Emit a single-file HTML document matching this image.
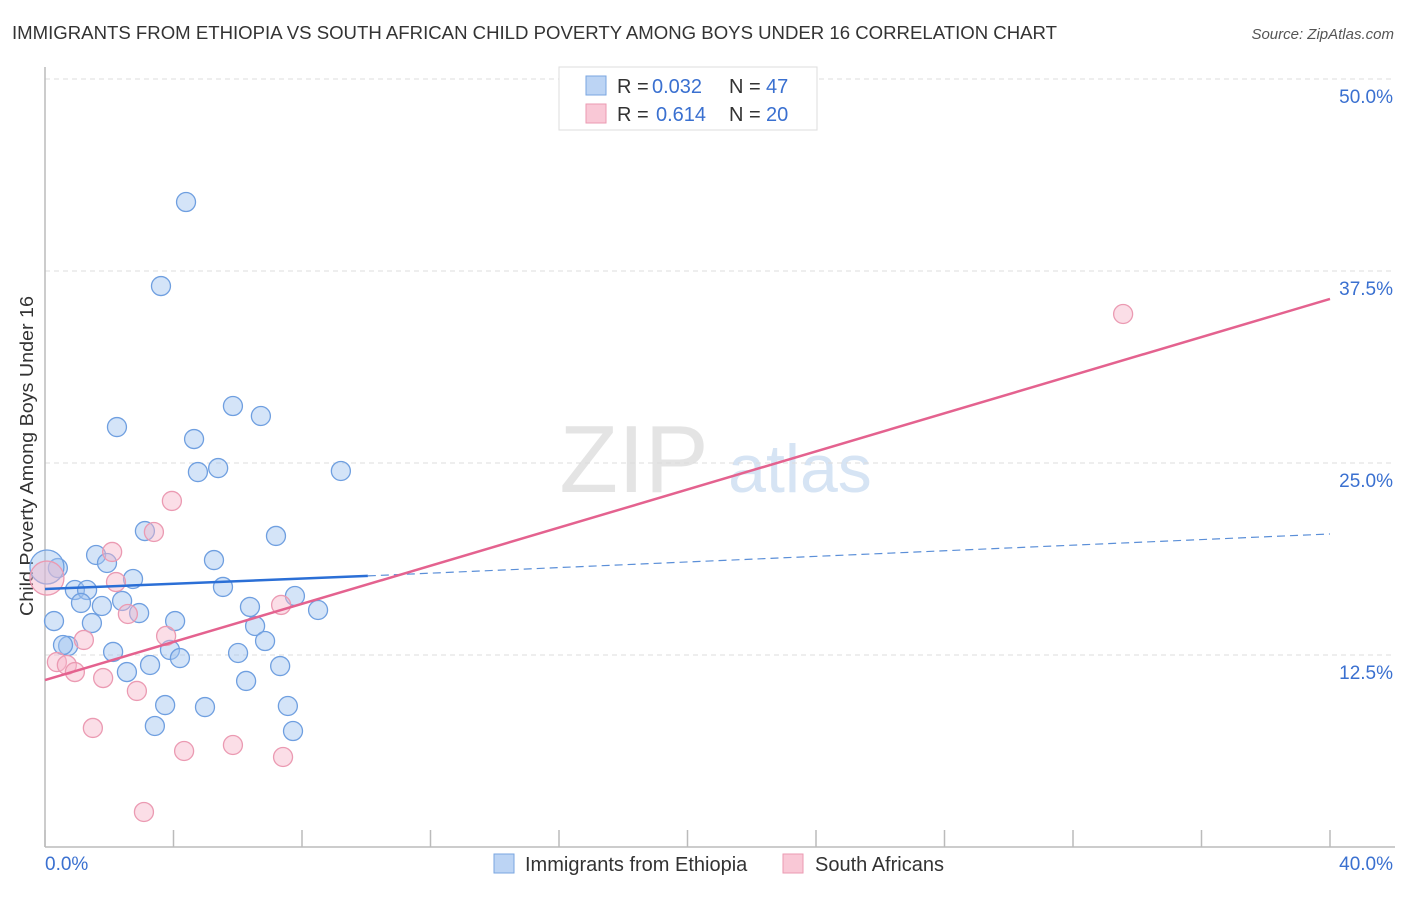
<!DOCTYPE html>
<html><head><meta charset="utf-8"><style>
body{margin:0;background:#fff;font-family:"Liberation Sans",sans-serif;}
svg text{font-family:"Liberation Sans",sans-serif;}
</style></head><body>
<svg id="c" width="1406" height="892">
<text x="12" y="39" font-size="18" fill="#333" textLength="1045" lengthAdjust="spacingAndGlyphs">IMMIGRANTS FROM ETHIOPIA VS SOUTH AFRICAN CHILD POVERTY AMONG BOYS UNDER 16 CORRELATION CHART</text>
<text x="1394" y="39" font-size="15" fill="#555" text-anchor="end" font-style="italic">Source: ZipAtlas.com</text>
<text x="634" y="492" font-size="96" fill="#e4e4e4" font-family="Liberation Serif" text-anchor="middle">ZIP</text>
<text x="800" y="492" font-size="68" fill="#d6e4f4" text-anchor="middle">atlas</text>
<text transform="translate(33,456) rotate(-90)" font-size="18" fill="#333" text-anchor="middle" textLength="320" lengthAdjust="spacingAndGlyphs">Child Poverty Among Boys Under 16</text>
<g id="grid"></g><g id="marks"></g>
<g>
<rect x="559" y="67" width="258" height="63" fill="#fff" stroke="#ddd"/>
<rect x="586" y="76" width="20" height="19" fill="#bcd4f4" stroke="#7aa6e0"/>
<rect x="586" y="104" width="20" height="19" fill="#f9c8d6" stroke="#eb9ab2"/>
<text x="617" y="93" font-size="20" fill="#333">R =</text>
<text x="652" y="93" font-size="20" fill="#3a70d0">0.032</text>
<text x="729" y="93" font-size="20" fill="#333">N =</text>
<text x="766" y="93" font-size="20" fill="#3a70d0">47</text>
<text x="617" y="121" font-size="20" fill="#333">R =</text>
<text x="656" y="121" font-size="20" fill="#3a70d0">0.614</text>
<text x="729" y="121" font-size="20" fill="#333">N =</text>
<text x="766" y="121" font-size="20" fill="#3a70d0">20</text>
</g>
<g>
<rect x="494" y="854" width="20" height="19" fill="#bcd4f4" stroke="#7aa6e0"/>
<text x="525" y="871" font-size="20" fill="#333">Immigrants from Ethiopia</text>
<rect x="783" y="854" width="20" height="19" fill="#f9c8d6" stroke="#eb9ab2"/>
<text x="815" y="871" font-size="20" fill="#333">South Africans</text>
</g>
</svg>
<script>
const yTicks=[12.5,25,37.5,50];
const yTickLabels=["12.5%","25.0%","37.5%","50.0%"];
const xTickLabels=["0.0%","40.0%"];
const blueX=[4.39,3.61,2.24,5.85,6.72,4.64,4.76,5.39,9.21,3.11,7.19,1.59,1.93,5.26,0.40,0.06,2.74,0.93,1.31,5.54,1.12,1.77,2.40,2.93,6.38,7.78,8.50,0.28,1.46,4.05,6.54,6.85,0.72,0.56,2.12,3.89,4.20,6.01,3.27,2.55,7.32,6.26,3.74,4.98,3.42,7.56,7.72];
const blueY=[41.99,36.52,27.34,28.71,28.06,26.56,24.41,24.67,24.48,20.57,20.25,19.01,18.49,18.68,18.16,18.23,17.45,16.73,16.73,16.93,15.89,15.69,16.02,15.23,15.63,16.34,15.43,14.71,14.58,14.71,14.39,13.41,13.09,13.15,12.70,12.83,12.30,12.63,11.85,11.39,11.78,10.81,9.24,9.11,7.88,9.18,7.55];
const pinkX=[3.95,3.39,2.09,2.21,0.06,1.21,2.58,3.77,7.35,0.37,0.68,0.93,1.81,2.86,1.49,4.33,5.85,7.41,3.08,33.56];
const pinkY=[22.53,20.51,19.21,17.25,17.51,13.48,15.17,13.74,15.76,12.04,11.85,11.39,11.00,10.16,7.75,6.25,6.64,5.86,2.28,34.70];
const blueLine=[16.8,17.65,20.38];
const blueLineX=[0,10.05,40];
const pinkLine=[10.87,35.68];
const X=v=>45+v/40*1285, Y=v=>847-v/50*768;
const NS="http://www.w3.org/2000/svg";
function mk(tag,attrs,parent){const e=document.createElementNS(NS,tag);for(const k in attrs)e.setAttribute(k,attrs[k]);parent.appendChild(e);return e;}
const grid=document.getElementById('grid'),marks=document.getElementById('marks');
yTicks.forEach((t,i)=>{
 const l=mk('line',{x1:45,x2:1395,y1:Y(t),y2:Y(t),stroke:'#ddd','stroke-dasharray':'5,4'},grid);
 
 
 const tx=mk('text',{x:1393,y:Y(t)+24,'font-size':19,fill:'#3a70d0','text-anchor':'end'},grid);
 tx.textContent=yTickLabels[i];
 
 
});
const ax=mk('line',{x1:45,x2:45,y1:67,y2:847,stroke:'#bbb','stroke-width':1.5},grid);


const bx=mk('line',{x1:45,x2:1395,y1:847,y2:847,stroke:'#bbb','stroke-width':1.5},grid);


for(let i=0;i<=10;i++){const t=mk('line',{x1:X(i*4),x2:X(i*4),y1:830,y2:847,stroke:'#bbb','stroke-width':1.5},grid);
 
 }
const xl0=mk('text',{x:45,y:870,'font-size':19,fill:'#3a70d0'},grid);xl0.textContent=xTickLabels[0];


const xl1=mk('text',{x:1393,y:870,'font-size':19,fill:'#3a70d0','text-anchor':'end'},grid);xl1.textContent=xTickLabels[1];


blueX.forEach((x,i)=>{const c=mk('circle',{cx:X(x),cy:Y(blueY[i]),r:i==15?17:9.5,fill:'rgba(160,196,240,0.45)',stroke:'#6f9fe0','stroke-width':1.3},marks);
 
 });
pinkX.forEach((x,i)=>{const c=mk('circle',{cx:X(x),cy:Y(pinkY[i]),r:i==4?17:9.5,fill:'rgba(246,182,202,0.45)',stroke:'#eb9ab2','stroke-width':1.3},marks);
 
 });
const b1=mk('line',{x1:X(blueLineX[0]),y1:Y(blueLine[0]),x2:X(blueLineX[1]),y2:Y(blueLine[1]),stroke:'#2b6fd6','stroke-width':2.5},marks);


const b2=mk('line',{x1:X(blueLineX[1]),y1:Y(blueLine[1]),x2:X(blueLineX[2]),y2:Y(blueLine[2]),stroke:'#5b8fd8','stroke-width':1.2,'stroke-dasharray':'8,5'},marks);


const p1=mk('line',{x1:X(0),y1:Y(pinkLine[0]),x2:X(40),y2:Y(pinkLine[1]),stroke:'#e4628f','stroke-width':2.5},marks);


</script>
</body></html>
